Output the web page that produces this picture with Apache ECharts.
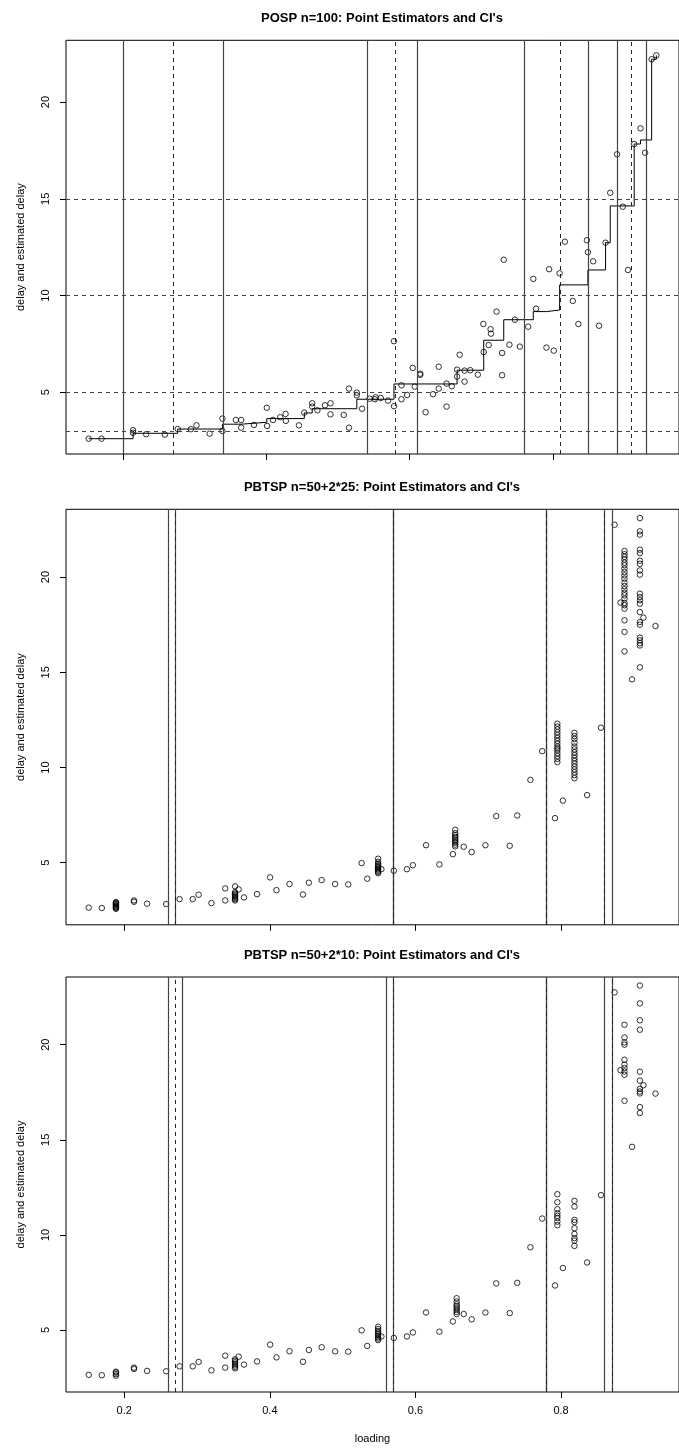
<!DOCTYPE html>
<html><head><meta charset="utf-8">
<script src="https://cdn.jsdelivr.net/npm/echarts@6/dist/echarts.min.js"></script>
<style>html,body{margin:0;padding:0;background:#fff}#c{width:679px;height:1450px}</style>
</head><body><div id="c"></div><script>
// ---------- data ----------
const titles = ["POSP n=100: Point Estimators and CI's", "PBTSP n=50+2*25: Point Estimators and CI's", "PBTSP n=50+2*10: Point Estimators and CI's"];
const xTicks = [0.2, 0.4, 0.6, 0.8];
const yTicks = [5, 10, 15, 20];

// Panel 1 observations
const p1X = [0.1514,0.1693,0.2134,0.2134,0.2317,0.2579,0.2758,0.2942,0.302,0.3204,0.3383,0.3383,0.3571,0.3645,0.3645,0.3824,0.4003,0.4007,0.409,0.4191,0.4265,0.4269,0.4452,0.4527,0.4637,0.4637,0.471,0.4816,0.4893,0.4893,0.5078,0.5151,0.5151,0.5261,0.5261,0.5334,0.544,0.5513,0.5523,0.5596,0.5698,0.578,0.578,0.5885,0.5885,0.5964,0.6042,0.607,0.6147,0.6147,0.6222,0.6326,0.6405,0.6405,0.6515,0.6515,0.6588,0.6662,0.6662,0.6698,0.6767,0.6767,0.6846,0.6952,0.7029,0.7034,0.7103,0.713,0.7135,0.7213,0.7291,0.7291,0.7314,0.7393,0.747,0.7539,0.7655,0.7727,0.7765,0.7911,0.7948,0.8013,0.8095,0.8168,0.8279,0.8357,0.8476,0.849,0.8564,0.8646,0.8737,0.8802,0.8898,0.8977,0.905,0.9137,0.9225,0.9289,0.9381,0.9446];
const p1Y = [2.60,2.60,3.04,2.91,2.83,2.81,3.10,3.09,3.29,2.86,3.64,3.00,3.57,3.57,3.17,3.31,4.20,3.26,3.57,3.71,3.88,3.52,3.29,3.95,4.43,4.26,4.07,4.33,4.43,3.86,3.83,5.19,3.17,4.98,4.84,4.15,4.67,4.64,4.74,4.70,4.57,7.64,4.28,5.36,4.64,4.86,6.26,5.29,5.96,5.90,3.97,4.90,6.32,5.19,4.26,5.45,5.31,5.81,6.17,6.94,5.55,6.12,6.14,5.91,8.53,7.08,7.44,8.26,8.03,9.17,7.03,5.88,11.85,7.46,8.75,7.36,8.39,10.86,9.32,7.31,11.36,7.15,11.15,12.78,9.72,8.53,12.86,12.24,11.77,8.44,12.73,15.31,17.30,14.59,11.32,17.83,18.64,17.38,22.21,22.41];
// Panel 1 isotonic step estimate
const stepX = [0.1514,0.2134,0.2758,0.3383,0.3645,0.4003,0.4527,0.4637,0.5261,0.578,0.6662,0.7034,0.7314,0.7727,0.7911,0.8095,0.849,0.8737,0.8802,0.9137,0.9225,0.9381,0.9446];
const stepY = [2.60,2.88,3.10,3.35,3.45,3.64,3.93,4.15,4.64,5.43,6.14,7.69,8.75,9.17,9.25,10.55,11.32,12.73,14.63,17.83,18.04,22.21,22.41];
const p1Ci = [0.1964,0.3442,0.5416,0.6142,0.763,0.8488,0.8851,0.9273];
const p1Est = [0.2702,0.578,0.8057,0.9052];
const p1Levels = [3,5,10,15];

// Panels 2 and 3: shared first-stage observations
const baseX = [0.1512,0.1692,0.2134,0.2134,0.2314,0.2576,0.276,0.2941,0.3022,0.3198,0.3387,0.3387,0.3571,0.3644,0.3824,0.4004,0.4091,0.427,0.4455,0.4536,0.4712,0.4896,0.5077,0.5261,0.5338,0.5532,0.5703,0.5883,0.5964,0.6145,0.6329,0.6514,0.6663,0.6772,0.6961,0.711,0.7295,0.7398,0.7579,0.7741,0.7917,0.8025,0.8358,0.8548,0.8735,0.8817,0.8975,0.9131,0.9297];
const baseY = [2.64,2.62,3.02,2.95,2.85,2.83,3.09,3.09,3.32,2.88,3.65,3.02,3.60,3.18,3.35,4.23,3.56,3.88,3.33,3.95,4.09,3.88,3.86,4.98,4.16,4.66,4.58,4.66,4.87,5.92,4.91,5.45,5.84,5.56,5.92,7.45,5.89,7.48,9.35,10.86,7.34,8.26,8.55,12.09,22.75,18.66,14.63,17.87,17.43];

// Panel 2 design-point columns
const p2ColX = [0.1886,0.3522,0.5487,0.6546,0.7949,0.8184,0.8871,0.9083];
const p2ColY = [
  [2.58,2.62,2.66,2.70,2.74,2.78,2.82,2.86,2.90,2.93],
  [3.02,3.08,3.14,3.20,3.26,3.32,3.38,3.45,3.76],
  [4.45,4.52,4.58,4.64,4.70,4.76,4.82,4.88,4.95,5.05,5.21],
  [5.86,5.95,6.05,6.12,6.20,6.28,6.36,6.45,6.55,6.73],
  [10.28,10.45,10.60,10.75,10.90,11.00,11.10,11.25,11.40,11.55,11.70,11.85,12.00,12.15,12.30],
  [9.44,9.60,9.75,9.90,10.05,10.20,10.35,10.50,10.65,10.80,10.95,11.10,11.30,11.50,11.65,11.82],
  [21.37,21.20,21.06,20.92,20.76,20.62,20.44,20.26,20.09,19.92,19.71,19.53,19.36,19.18,19.04,18.87,18.64,18.52,18.34,17.73,17.12,16.10],
  [23.10,22.40,22.23,21.44,21.26,20.86,20.70,20.35,20.13,19.13,18.95,18.78,18.60,18.16,17.64,17.50,16.82,16.68,16.53,16.41,15.26]
];
const p2Ci = [0.2595,0.2718,0.5668,0.5726,0.7772,0.7822,0.858,0.8661];
const p2Est = [0.2658,0.5695,0.7797,0.862];

// Panel 3 design-point columns
const p3ColX = [0.1886,0.3522,0.5487,0.6566,0.7949,0.8184,0.8871,0.9083];
const p3ColY = [
  [2.60,2.68,2.76,2.81],
  [2.98,3.06,3.14,3.22,3.30,3.38,3.46],
  [4.47,4.55,4.62,4.70,4.78,4.86,4.95,5.05,5.17],
  [5.84,5.95,6.05,6.15,6.25,6.35,6.50,6.67],
  [12.14,11.72,11.35,11.14,11.00,10.88,10.70,10.51],
  [11.79,11.49,10.79,10.67,10.35,10.05,9.83,9.70,9.42],
  [21.05,20.38,20.12,20.00,19.21,18.95,18.77,18.59,18.42,17.05],
  [23.11,22.17,21.28,20.79,18.58,18.11,17.68,17.54,17.44,16.72,16.41]
];
const p3Ci = [0.2622,0.2814,0.5598,0.5748,0.779,0.7832,0.857,0.8728];
const p3Est = [0.2718,0.5668,0.7817,0.8651];

// ---------- build ----------
const FONT = "'Liberation Sans', Arial, Helvetica, sans-serif";
const zip = (xs, ys) => xs.map((x, i) => [x, ys[i]]);
const cols = (cx, cy) => { const out = []; cx.forEach((x, i) => cy[i].forEach(y => out.push([x, y]))); return out; };

const panels = [
  {top: 40.3, height: 413.7, xmin: 0.1197, xmax: 0.9763, ymin: 1.81, ymax: 23.19},
  {top: 509.3, height: 415.5, xmin: 0.1200, xmax: 0.9620, ymin: 1.74, ymax: 23.56},
  {top: 977, height: 415, xmin: 0.1200, xmax: 0.9620, ymin: 1.74, ymax: 23.56}
];

const grid = panels.map(p => ({left: 66, top: p.top, width: 622, height: p.height, show: true, borderColor: '#000', borderWidth: 1, backgroundColor: 'transparent'}));

const xAxis = panels.map((p, i) => ({
  type: 'value', gridIndex: i, min: p.xmin, max: p.xmax,
  axisLine: {show: false}, splitLine: {show: false},
  axisTick: {show: true, customValues: xTicks, length: 6, lineStyle: {color: '#000', width: 1}},
  axisLabel: {show: i === 2, customValues: xTicks, fontSize: 11, color: '#000', fontFamily: FONT, margin: 13, formatter: v => v.toFixed(1)},
  name: i === 2 ? 'loading' : '', nameLocation: 'middle', nameGap: 41,
  nameTextStyle: {fontSize: 11, color: '#000', fontFamily: FONT}
}));

const yAxis = panels.map((p, i) => ({
  type: 'value', gridIndex: i, min: p.ymin, max: p.ymax,
  axisLine: {show: false}, splitLine: {show: false},
  axisTick: {show: true, customValues: yTicks, length: 6, lineStyle: {color: '#000', width: 1}},
  axisLabel: {show: true, customValues: yTicks, rotate: 90, fontSize: 11, color: '#000', fontFamily: FONT, margin: 15},
  name: 'delay and estimated delay', nameLocation: 'middle', nameRotate: 90, nameGap: 40,
  nameTextStyle: {fontSize: 11, color: '#000', fontFamily: FONT}
}));

const circleStyle = {color: 'rgba(0,0,0,0)', borderColor: '#000', borderWidth: 1};
const vlines = (ci, est) => [
  ...ci.map(v => ({xAxis: v, lineStyle: {type: 'solid', color: '#444', width: 1.2}})),
  ...est.map(v => ({xAxis: v, lineStyle: {type: [4, 4], color: '#222', width: 1}}))
];
const mlBase = {symbol: ['none', 'none'], silent: true, label: {show: false}, animation: false, emphasis: {disabled: true}};

const series = [
  {type: 'line', xAxisIndex: 0, yAxisIndex: 0, step: 'end', data: zip(stepX, stepY), showSymbol: false, symbol: 'none',
   lineStyle: {color: '#000', width: 1}, z: 3,
   markLine: Object.assign({}, mlBase, {data: [...vlines(p1Ci, p1Est), ...p1Levels.map(v => ({yAxis: v, lineStyle: {type: [4, 4], color: '#444', width: 1}}))]})},
  {type: 'scatter', xAxisIndex: 0, yAxisIndex: 0, data: zip(p1X, p1Y), symbol: 'circle', symbolSize: 5.5, itemStyle: circleStyle, z: 4},
  {type: 'scatter', xAxisIndex: 1, yAxisIndex: 1, data: zip(baseX, baseY).concat(cols(p2ColX, p2ColY)), symbol: 'circle', symbolSize: 5.5, itemStyle: circleStyle, z: 4,
   markLine: Object.assign({}, mlBase, {data: vlines(p2Ci, p2Est)})},
  {type: 'scatter', xAxisIndex: 2, yAxisIndex: 2, data: zip(baseX, baseY).concat(cols(p3ColX, p3ColY)), symbol: 'circle', symbolSize: 5.5, itemStyle: circleStyle, z: 4,
   markLine: Object.assign({}, mlBase, {data: vlines(p3Ci, p3Est)})}
];

const title = titles.map((t, i) => ({
  text: t, left: 377, top: [7, 476, 944][i], textAlign: 'center',
  textStyle: {fontSize: 13, fontWeight: 'bold', color: '#000', fontFamily: FONT}
}));

const chart = echarts.init(document.getElementById('c'), null, {renderer: 'canvas', width: 679, height: 1450});
chart.setOption({animation: false, backgroundColor: '#fff', title, grid, xAxis, yAxis, series});
</script></body></html>
